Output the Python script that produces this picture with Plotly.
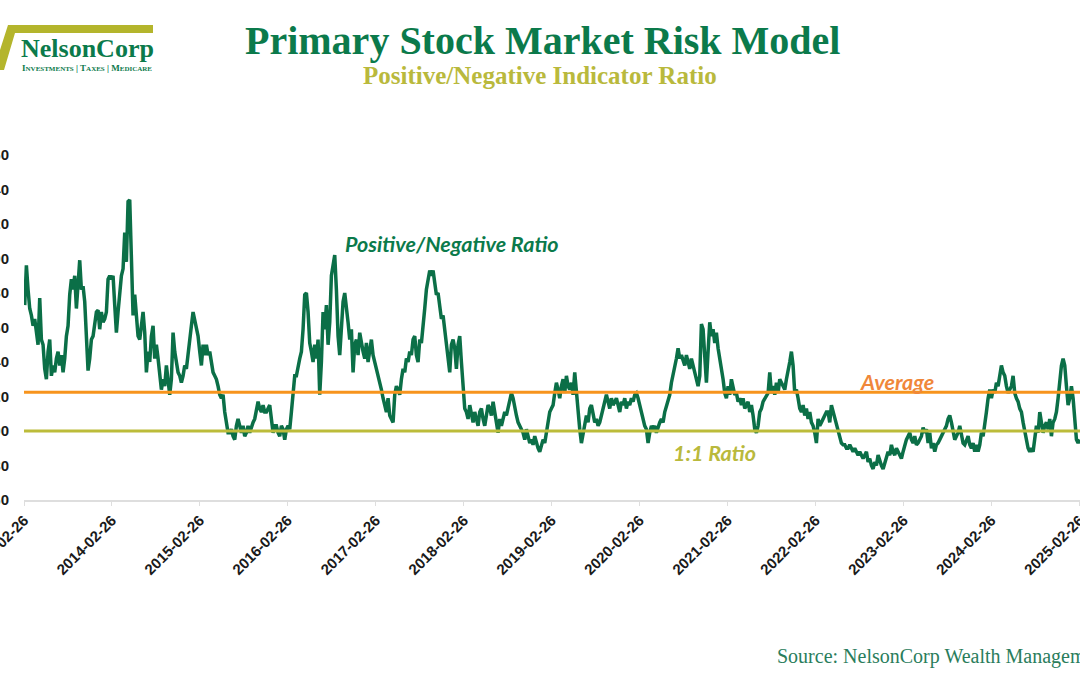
import pandas as pd
import plotly.graph_objects as go

# ---------------- data ----------------
START_DATE = "2013-03-01"
END_DATE = "2025-02-27"

RATIO_2013_2016 = [
    1.73, 1.96, 1.82, 1.71, 1.67, 1.61, 1.65, 1.57, 1.50, 1.77, 1.53, 1.50, 1.36, 1.30, 1.46, 1.53,
    1.32, 1.38, 1.34, 1.42, 1.46, 1.38, 1.44, 1.34, 1.42, 1.55, 1.61, 1.79, 1.88, 1.82, 1.90, 1.71,
    1.88, 1.99, 1.82, 1.84, 1.75, 1.51, 1.35, 1.42, 1.53, 1.55, 1.63, 1.69, 1.70, 1.59, 1.69, 1.63,
    1.65, 1.69, 1.88, 1.90, 1.88, 1.90, 1.73, 1.57, 1.69, 1.82, 1.90, 1.94, 2.15, 1.98, 2.33, 2.34,
    2.07, 1.67, 1.79, 1.69, 1.55, 1.53, 1.61, 1.69, 1.57, 1.34, 1.46, 1.40, 1.55, 1.61, 1.42, 1.50,
    1.42, 1.32, 1.24, 1.30, 1.26, 1.38, 1.28, 1.21, 1.30, 1.57, 1.46, 1.38, 1.34, 1.32, 1.28, 1.32,
    1.38, 1.36, 1.46, 1.53, 1.61, 1.69, 1.65, 1.61, 1.55, 1.46, 1.38, 1.50, 1.44, 1.50, 1.44, 1.46,
    1.38, 1.34, 1.32, 1.30, 1.26, 1.21, 1.19, 1.21, 1.11, 1.03, 0.99, 0.99, 1.01, 0.97, 0.95, 1.03,
    1.07, 1.03, 0.99, 1.03, 0.97, 0.99, 1.03, 0.99, 1.03, 1.05, 1.07, 1.11, 1.17, 1.13, 1.11, 1.15,
    1.11, 1.11, 1.13, 1.15, 1.07, 0.99, 1.03, 1.03, 0.99, 0.97, 1.03, 1.01, 0.95, 1.01, 1.03, 1.01,
    1.11, 1.22, 1.32, 1.32, 1.38, 1.42,
]

RATIO_2016_2019 = [
    1.46, 1.59, 1.79, 1.80, 1.69, 1.51, 1.46, 1.40, 1.50, 1.42, 1.53, 1.21, 1.40, 1.69, 1.59, 1.73,
    1.50, 1.63, 1.90, 1.98, 2.02, 1.82, 1.55, 1.44, 1.59, 1.75, 1.80, 1.73, 1.63, 1.53, 1.59, 1.34,
    1.50, 1.53, 1.44, 1.57, 1.50, 1.46, 1.42, 1.51, 1.40, 1.48, 1.53, 1.44, 1.40, 1.38, 1.32, 1.28,
    1.24, 1.19, 1.15, 1.11, 1.19, 1.09, 1.07, 1.05, 1.21, 1.26, 1.24, 1.21, 1.30, 1.36, 1.34, 1.42,
    1.40, 1.46, 1.44, 1.53, 1.55, 1.44, 1.40, 1.53, 1.51, 1.59, 1.71, 1.82, 1.88, 1.93, 1.90, 1.93,
    1.86, 1.79, 1.80, 1.73, 1.65, 1.67, 1.59, 1.53, 1.44, 1.34, 1.50, 1.53, 1.48, 1.36, 1.50, 1.55,
    1.40, 1.26, 1.13, 1.11, 1.07, 1.15, 1.09, 1.05, 1.11, 1.07, 1.03, 1.11, 1.13, 1.07, 1.03, 1.09,
    1.15, 1.13, 1.09, 1.17, 1.09, 1.05, 0.99, 1.07, 1.03, 1.07, 1.11, 1.09, 1.13, 1.19, 1.22, 1.19,
    1.13, 1.09, 1.05, 1.03, 1.01, 0.99, 0.95, 1.01, 0.97, 0.93, 0.95, 0.92, 0.97, 0.93, 0.90, 0.88,
    0.92, 0.95, 0.93, 0.99, 1.05, 1.11, 1.13, 1.15, 1.22, 1.28, 1.24, 1.19, 1.26, 1.30, 1.22, 1.32,
    1.26, 1.24, 1.28, 1.21, 1.34, 1.21, 1.09, 1.01,
]

RATIO_2019_2025 = [
    0.93, 0.99, 1.05, 1.09, 1.05, 1.13, 1.15, 1.11, 1.05, 1.07, 1.03, 1.05, 1.09, 1.13, 1.17, 1.21,
    1.17, 1.13, 1.19, 1.15, 1.17, 1.19, 1.15, 1.11, 1.17, 1.15, 1.19, 1.13, 1.17, 1.15, 1.19, 1.17,
    1.21, 1.22, 1.19, 1.15, 1.11, 1.05, 1.03, 1.01, 0.93, 0.99, 1.03, 1.01, 1.03, 0.99, 1.03, 1.05,
    1.07, 1.05, 1.11, 1.15, 1.19, 1.21, 1.28, 1.32, 1.38, 1.42, 1.48, 1.42, 1.44, 1.40, 1.38, 1.44,
    1.40, 1.36, 1.42, 1.38, 1.32, 1.28, 1.26, 1.32, 1.62, 1.59, 1.38, 1.28, 1.46, 1.63, 1.55, 1.59,
    1.51, 1.57, 1.48, 1.42, 1.38, 1.30, 1.22, 1.19, 1.26, 1.21, 1.30, 1.26, 1.21, 1.22, 1.17, 1.19,
    1.15, 1.19, 1.13, 1.15, 1.17, 1.11, 1.15, 1.09, 1.01, 0.99, 1.03, 1.11, 1.13, 1.17, 1.19, 1.21,
    1.22, 1.34, 1.22, 1.26, 1.21, 1.28, 1.22, 1.30, 1.28, 1.26, 1.24, 1.30, 1.34, 1.40, 1.46, 1.38,
    1.22, 1.24, 1.19, 1.13, 1.11, 1.15, 1.09, 1.13, 1.07, 1.11, 1.05, 1.03, 0.99, 0.93, 1.07, 1.03,
    1.05, 1.07, 1.09, 1.11, 1.11, 1.05, 1.15, 1.11, 1.07, 1.03, 0.99, 0.95, 0.93, 0.92, 0.92, 0.90,
    0.90, 0.92, 0.90, 0.88, 0.90, 0.88, 0.86, 0.88, 0.86, 0.84, 0.86, 0.88, 0.82, 0.84, 0.80, 0.78,
    0.82, 0.80, 0.86, 0.82, 0.80, 0.78, 0.82, 0.86, 0.88, 0.86, 0.92, 0.88, 0.86, 0.90, 0.88, 0.86,
    0.84, 0.88, 0.92, 0.95, 0.97, 0.99, 0.95, 0.93, 0.97, 0.92, 0.93, 0.95, 0.97, 1.02, 0.99, 1.01,
    0.93, 0.99, 0.90, 0.93, 0.88, 0.92, 0.93, 0.95, 0.97, 0.99, 1.01, 1.03, 1.07, 1.09, 1.05, 1.01,
    0.95, 0.97, 0.99, 1.03, 0.97, 0.93, 0.92, 0.95, 0.97, 0.92, 0.90, 0.93, 0.88, 0.92, 0.88, 0.92,
    0.99, 0.97, 1.03, 1.11, 1.19, 1.24, 1.19, 1.24, 1.22, 1.28, 1.26, 1.32, 1.38, 1.34, 1.32, 1.26,
    1.22, 1.24, 1.26, 1.32, 1.22, 1.19, 1.17, 1.13, 1.11, 1.05, 0.99, 0.93, 0.90, 0.88, 0.90, 0.88,
    0.95, 1.03, 0.99, 1.11, 1.05, 0.99, 1.03, 1.05, 1.01, 1.07, 0.97, 1.05, 1.07, 1.11, 1.19, 1.30,
    1.38, 1.42, 1.38, 1.26, 1.15, 1.19, 1.26, 1.19, 1.03, 0.95, 0.93, 0.95,
]

AVERAGE_RATIO = 1.225
ONE_TO_ONE = 1.0

Y_TICKS = [0.6, 0.8, 1.0, 1.2, 1.4, 1.6, 1.8, 2.0, 2.2, 2.4, 2.6]
X_TICKS = ["2013-02-26", "2014-02-26", "2015-02-26", "2016-02-26", "2017-02-26",
           "2018-02-26", "2019-02-26", "2020-02-26", "2021-02-26", "2022-02-26",
           "2023-02-26", "2024-02-26", "2025-02-26"]
X_RANGE = ["2013-02-26", "2025-02-28"]

TITLE = "Primary Stock Market Risk Model"
SUBTITLE = "Positive/Negative Indicator Ratio"
SOURCE = "Source: NelsonCorp Wealth Management"

# ---------------- build ----------------
values = RATIO_2013_2016 + RATIO_2016_2019 + RATIO_2019_2025
dates = pd.date_range(START_DATE, END_DATE, periods=len(values))

W, H = 1080, 675
ML, MR, MT, MB = 24, 0, 155, 175
PW, PH = W - ML - MR, H - MT - MB


def px(x):
    return (x - ML) / PW


def py(y):
    return (H - MB - y) / PH


LINE_GREEN = "#0b6f47"
TITLE_GREEN = "#0b7a4b"
ORANGE = "#f7941d"
OLIVE = "#bcbc3a"
OLIVE_TEXT = "#b9b93c"
LOGO_OLIVE = "#b4b52c"

fig = go.Figure()
fig.add_trace(go.Scatter(x=dates, y=values, mode="lines",
                         line=dict(color=LINE_GREEN, width=3.5), hoverinfo="skip"))

ann = []
ann.append(dict(text=TITLE, x=px(542), y=py(41), xref="paper", yref="paper",
                showarrow=False, xanchor="center", yanchor="middle",
                font=dict(family="Liberation Serif", size=40, color=TITLE_GREEN, weight="bold")))
ann.append(dict(text=SUBTITLE, x=px(540), y=py(76), xref="paper", yref="paper",
                showarrow=False, xanchor="center", yanchor="middle",
                font=dict(family="Liberation Serif", size=25, color=OLIVE_TEXT, weight="bold")))
# logo text
ann.append(dict(text="NelsonCorp", x=px(19), y=py(48), xref="paper", yref="paper",
                showarrow=False, xanchor="left", yanchor="middle",
                font=dict(family="Liberation Serif", size=26, color=TITLE_GREEN, weight="bold")))
small = "font-size:7px"
ann.append(dict(text=("I<span style='%s'>NVESTMENTS</span> | T<span style='%s'>AXES</span> | "
                      "M<span style='%s'>EDICARE</span>") % (small, small, small),
                x=px(20), y=py(68), xref="paper", yref="paper",
                showarrow=False, xanchor="left", yanchor="middle",
                font=dict(family="Liberation Serif", size=9, color=TITLE_GREEN, weight="bold")))
# source
ann.append(dict(text=SOURCE, x=px(775), y=py(656), xref="paper", yref="paper",
                showarrow=False, xanchor="left", yanchor="middle",
                font=dict(family="Liberation Serif", size=20, color="#2a7d5c")))
# in-chart labels
lab_font = dict(family="Lato", size=21.5, weight="bold", style="italic")
ann.append(dict(text="Positive/Negative Ratio", x=px(343), y=py(244), xref="paper", yref="paper",
                showarrow=False, xanchor="left", yanchor="middle",
                font=dict(lab_font, color="#0b7a4b")))
ann.append(dict(text="Average", x=px(858), y=py(382), xref="paper", yref="paper",
                showarrow=False, xanchor="left", yanchor="middle",
                font=dict(lab_font, color="#f0873a")))
ann.append(dict(text="1:1 Ratio", x=px(671), y=py(453), xref="paper", yref="paper",
                showarrow=False, xanchor="left", yanchor="middle",
                font=dict(lab_font, color=OLIVE_TEXT)))

# reference lines + logo mark
shapes = [
    dict(type="line", xref="paper", yref="y", x0=0, x1=1, y0=AVERAGE_RATIO, y1=AVERAGE_RATIO,
         line=dict(color=ORANGE, width=3), layer="above"),
    dict(type="line", xref="paper", yref="y", x0=0, x1=1, y0=ONE_TO_ONE, y1=ONE_TO_ONE,
         line=dict(color=OLIVE, width=3), layer="above"),
]
pts = [(8, 25), (153, 25), (153, 33), (15, 33), (4, 70), (0, 70), (0, 50)]
path = "M " + " L ".join("%f,%f" % (px(a), py(b)) for a, b in pts) + " Z"
shapes.append(dict(type="path", path=path, xref="paper", yref="paper",
                   fillcolor=LOGO_OLIVE, line=dict(width=0)))

fig.update_layout(
    width=W, height=H, autosize=False,
    margin=dict(l=ML, r=MR, t=MT, b=MB, pad=0),
    paper_bgcolor="white", plot_bgcolor="white",
    showlegend=False,
    annotations=ann,
    shapes=shapes,
    xaxis=dict(type="date", range=X_RANGE, tickvals=X_TICKS, ticktext=X_TICKS,
               tickangle=-45, showgrid=False, zeroline=False,
               showline=True, linecolor="#dedede", linewidth=1.5,
               ticks="outside", ticklen=4, tickcolor="#dedede",
               ticklabeloverflow="allow",
               tickfont=dict(family="Liberation Sans", size=15, color="#1a1a1a", weight="bold"),
               automargin=False, fixedrange=True),
    yaxis=dict(range=[0.6, 2.6], tickvals=Y_TICKS, tickformat=".2f",
               showgrid=False, zeroline=False, showline=False, ticks="",
               ticklabelstandoff=14, ticklabeloverflow="allow",
               tickfont=dict(family="Liberation Sans", size=15, color="#1a1a1a", weight="bold"),
               automargin=False, fixedrange=True),
)

fig.write_html("out.html", config={"displayModeBar": False})
